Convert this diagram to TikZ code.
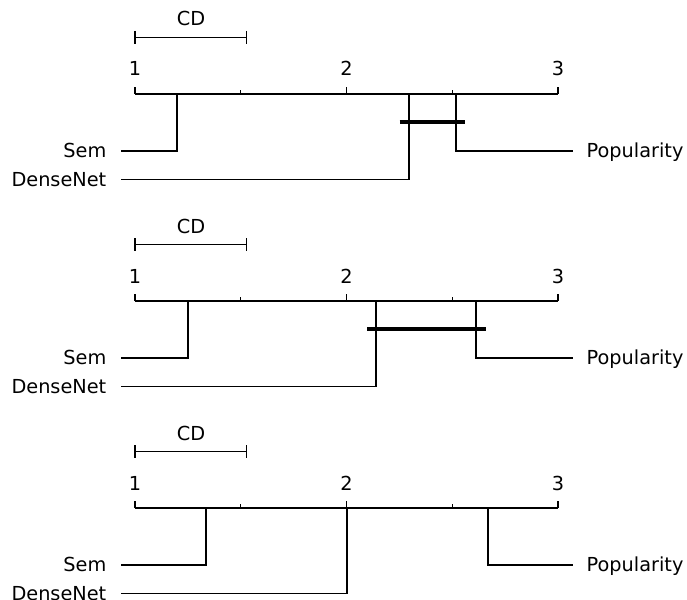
\documentclass[tikz,border=0pt]{standalone}
\usepackage{fontspec}
\setmainfont{DejaVu Sans}
\begin{document}
\begin{tikzpicture}[x=1pt,y=-1pt,line width=1.4pt,
  lab/.style={font=\fontsize{19.3}{21}\selectfont,inner sep=0pt},
  cliquebar/.style={line width=4.2pt}]
\useasboundingbox (0,0) rectangle (687,599);
\foreach \p/\o/\s/\d/\q/\cl/\cr in {1/0/177/409/456/399.5/465,2/207/188/376/476/367/486,3/414/206/347/488/0/0}{
  \begin{scope}[yshift=-\o pt]
    % CD bar
    \coordinate (cdL\p) at (135,37.5);
    \coordinate (cdR\p) at (246.7,37.5);
    \draw (cdL\p) -- (cdR\p);
    \draw ([yshift=6.5pt]cdL\p) -- ([yshift=-6.5pt]cdL\p);
    \draw ([yshift=6.5pt]cdR\p) -- ([yshift=-6.5pt]cdR\p);
    \node[lab,anchor=base] (cd\p) at (191,26) {CD};
    % axis
    \coordinate (axL\p) at (135,94);
    \coordinate (axR\p) at (558,94);
    \draw (axL\p) -- (axR\p);
    \foreach \x/\t in {135/1,346.5/2,558/3}{
      \draw (\x,94) -- (\x,87.3);
      \node[lab,anchor=base] (num\p-\t) at (\x,76) {\t};
    }
    \foreach \x in {240.75,452.25}{
      \draw (\x,94) -- (\x,90.3);
    }
    % Sem
    \coordinate (semA\p) at (\s,94);
    \coordinate (semB\p) at (121,151);
    \draw (semA\p) |- (semB\p);
    \node[lab,anchor=base east] (semL\p) at (107,157.5) {Sem};
    % DenseNet
    \coordinate (denA\p) at (\d,94);
    \coordinate (denB\p) at (121,179.5);
    \draw (denA\p) |- (denB\p);
    \node[lab,anchor=base east] (denL\p) at (107,186) {DenseNet};
    % Popularity
    \coordinate (popA\p) at (\q,94);
    \coordinate (popB\p) at (573,151);
    \draw (popA\p) |- (popB\p);
    \node[lab,anchor=base west] (popL\p) at (586,157.5) {Popularity};
    % clique
    \ifnum\p<3
      \coordinate (clL\p) at (\cl,122);
      \coordinate (clR\p) at (\cr,122);
      \draw[cliquebar] (clL\p) -- (clR\p);
    \fi
  \end{scope}
}
\end{tikzpicture}
\end{document}
